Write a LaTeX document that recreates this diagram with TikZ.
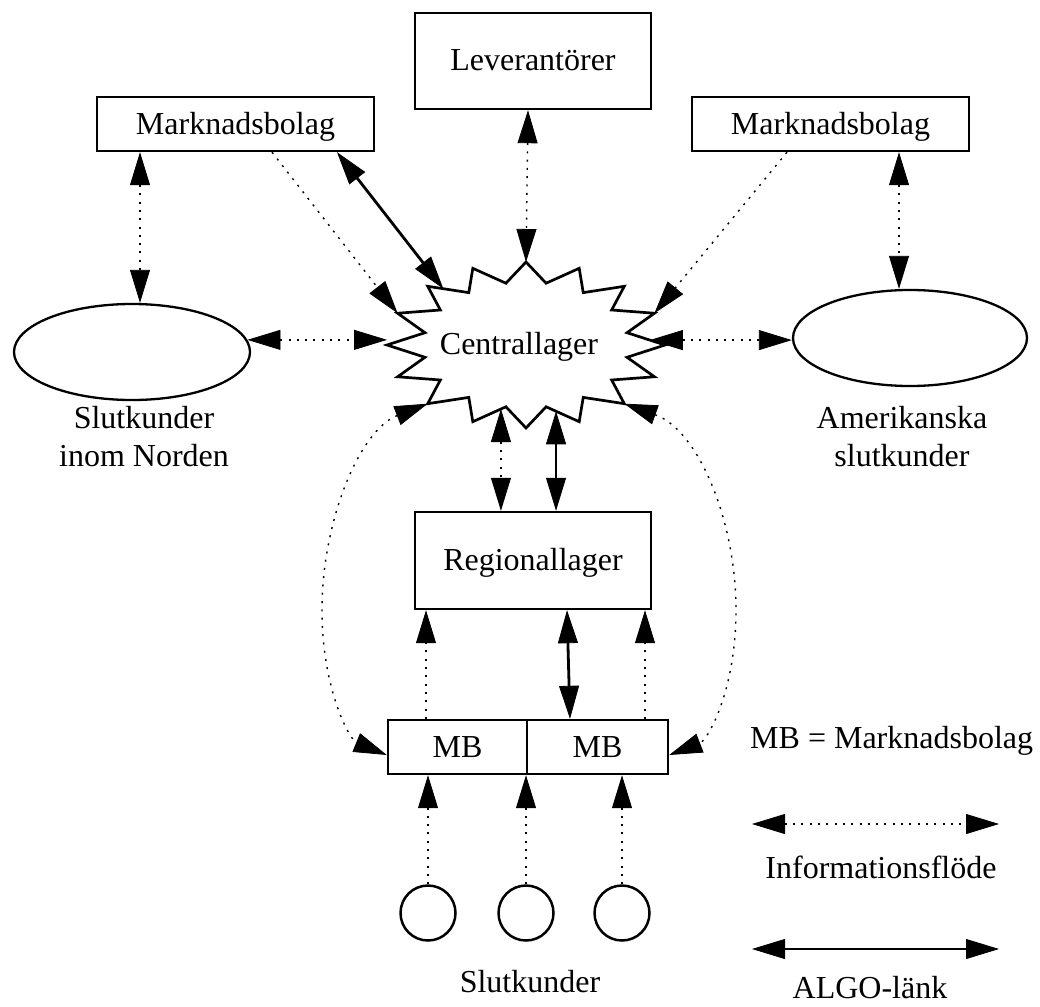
\documentclass[tikz,border=0pt]{standalone}
\usepackage{fontspec}
\setmainfont{Liberation Serif}
\usetikzlibrary{arrows.meta,shapes.geometric,calc}

\tikzset{
  >={Triangle[length=33pt,width=20pt,line width=0.8pt]},
  info/.style={line width=1.4pt, dash pattern=on 2pt off 6.3pt},
  algo/.style={line width=2.8pt},
  box/.style={draw, line width=2.4pt, inner sep=0pt, text height=22pt, text depth=2pt},
  oval/.style={ellipse, draw, line width=2.3pt, inner sep=0pt},
  cust/.style={circle, draw, line width=2.5pt, minimum size=55pt, inner sep=0pt},
  starline/.style={line width=2.7pt, line join=miter},
  lbl/.style={anchor=base, inner sep=0pt},
}

\begin{document}
\begin{tikzpicture}[x=1pt, y=-1pt, font=\fontsize{32}{38}\selectfont]
  \fill[white] (0,0) rectangle (1040,1006);
  \useasboundingbox (0,0) rectangle (1040,1006);

  % boxes
  \node[box, minimum width=236pt, minimum height=96pt] (lev) at (533,61) {Leverantörer};
  \node[box, minimum width=277pt, minimum height=54pt] (mbL) at (235.5,124) {Marknadsbolag};
  \node[box, minimum width=277pt, minimum height=54pt] (mbR) at (830.5,124) {Marknadsbolag};
  \node[box, minimum width=236pt, minimum height=97pt] (rl) at (533,560.5) {Regionallager};
  \node[box, minimum width=139pt, minimum height=54pt] (mbA) at (457.5,747) {MB};
  \node[box, minimum width=141pt, minimum height=54pt] (mbB) at (597.5,747) {MB};

  % customer groups
  \node[oval, minimum width=236pt, minimum height=96pt] (ellL) at (132,352) {};
  \node[oval, minimum width=234pt, minimum height=96pt] (ellR) at (910,338) {};
  \node[lbl] (tN1) at (144,428) {Slutkunder};
  \node[lbl] (tN2) at (144,466) {inom Norden};
  \node[lbl] (tA1) at (902,428) {Amerikanska};
  \node[lbl] (tA2) at (902,466) {slutkunder};

  \node[cust] (c1) at (428,913) {};
  \node[cust] (c2) at (526,913) {};
  \node[cust] (c3) at (622,913) {};
  \node[lbl] (tS) at (530,992) {Slutkunder};

  % central warehouse: a 16-point burst
  \foreach \k in {0,...,15}{
    \coordinate (sp\k) at ({526+139*cos(22.5*\k)}, {345-83*sin(22.5*\k)});
    \coordinate (in\k) at ({526+103*cos(22.5*\k+11.25)}, {345-63*sin(22.5*\k+11.25)});
  }
  \draw[starline] (sp0) \foreach \k [count=\n from 1] in {0,...,14}{ -- (in\k) -- (sp\n) } -- (in15) -- cycle;
  \node[lbl] (cl) at (519,354) {Centrallager};

  % helper points on the burst outline
  \coordinate (sA) at ($(sp6)!0.38!(in5)$);
  \coordinate (r0) at ($(sp0)!0.4!(in0)$);
  \coordinate (b1) at ($(sp11)!0.85!(in11)$);
  \coordinate (b2) at ($(in12)!0.3!(sp13)$);
  \coordinate (u1) at ([xshift=-31.5pt]mbA.north);
  \coordinate (u2) at ([xshift=47.5pt]mbB.north);

  % links at the top
  \draw[info,<->] ([xshift=-5pt]lev.south) -- (sp4);
  \draw[info,<->] ([xshift=-95.5pt]mbL.south) -- ([xshift=8pt]ellL.north);
  \draw[info,->] ([xshift=36.5pt]mbL.south) -- (sp7);
  \draw[algo,<->] ([xshift=101.5pt]mbL.south) -- (sA);
  \draw[info,->] ([xshift=-43.5pt]mbR.south) -- (sp1);
  \draw[info,<->] ([xshift=68.5pt]mbR.south) -- ([xshift=-11pt]ellR.north);

  % links to the customer groups
  \draw[info,<->] (ellL.6.5) -- (ellL.6.5 -| sp8);
  \draw[info,<->] (r0) -- (r0 -| ellR.west);

  % links down to the regional warehouse
  \draw[info,<->] (b1) -- (b1 |- rl.north);
  \draw[algo,<->] (b2) -- (b2 |- rl.north);
  \draw[algo,<->] ([xshift=34pt]rl.south) -- ([xshift=-27.5pt]mbB.north);
  \draw[info,->] (u1) -- (u1 |- rl.south);
  \draw[info,->] (u2) -- (u2 |- rl.south);

  % curved links from the sales companies to the central warehouse
  \draw[info,<->] (sp10) .. controls (360,430) and (322,520) .. (322,610)
                  .. controls (322,690) and (350,740) .. ([yshift=-8pt]mbA.west);
  \draw[info,<->] (sp14) .. controls (698,430) and (736,520) .. (736,610)
                  .. controls (736,690) and (708,740) .. ([yshift=-8pt]mbB.east);

  % end customers
  \draw[info,->] (c1.north) -- (c1 |- mbA.south);
  \draw[info,->] (c2.north) -- (c2 |- mbA.south);
  \draw[info,->] (c3.north) -- (c3 |- mbB.south);

  % legend
  \node[lbl, anchor=base west] (leg0) at (750,748) {MB = Marknadsbolag};
  \coordinate (li1) at (752,824);
  \coordinate (li2) at (999,824);
  \draw[info,<->] (li1) -- (li2);
  \node[lbl] (leg1) at (881,878) {Informationsflöde};
  \coordinate (la1) at (752,949);
  \coordinate (la2) at (999,949);
  \draw[algo,<->] (la1) -- (la2);
  \node[lbl] (leg2) at (870,998) {ALGO-länk};
\end{tikzpicture}
\end{document}
